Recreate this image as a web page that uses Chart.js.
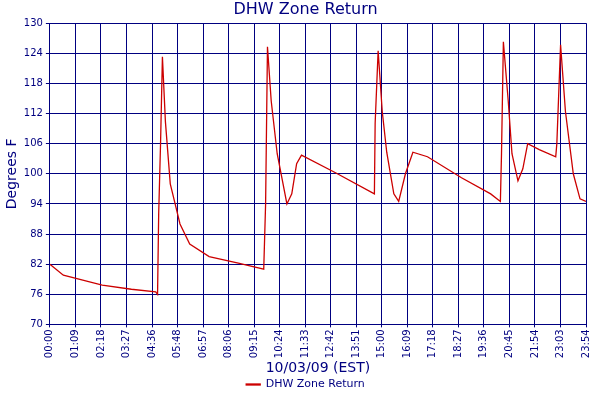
<!DOCTYPE html>
<html><head><meta charset="utf-8">
<script src="https://cdn.jsdelivr.net/npm/chart.js@4"></script>
<style>html,body{margin:0;background:#fff}#w{width:600px;height:400px}</style>
</head><body><div id="w"><canvas id="c"></canvas></div>
<script>
const minutes=[0,36,88,140,218,283,288,291,296,301,309,322,335,348,374,426,504,572,577,582,592,608,634,647,660,673,764,868,870,878,889,901,920,933,951,971,1010,1101,1179,1205,1208,1213,1226,1236,1252,1265,1278,1309,1353,1356,1366,1379,1400,1418,1434];
const temps=[82,79.8,78.8,77.8,77,76.5,76,92,106,123.3,110.4,98,94,90,86,83.5,82.2,81,94,125.3,114.5,104,94,96,102,103.7,100.2,96,110,124.5,112.4,104.3,96,94.5,100,104.3,103.4,99.2,96,94.5,104,126.3,114.5,104,98.6,101,106,104.8,103.4,106,125.7,112.4,100,95,94.5];
const tickLabels=["00:00","01:09","02:18","03:27","04:36","05:48","06:57","08:06","09:15","10:24","11:33","12:42","13:51","15:00","16:09","17:18","18:27","19:36","20:45","21:54","23:03","23:54"];
const yTicks=[70,76,82,88,94,100,106,112,118,124,130];
const navy='#000080';
Chart.defaults.font.family='"DejaVu Sans", Verdana, sans-serif';
new Chart(document.getElementById('c'),{
 type:'line',
 data:{datasets:[{label:'DHW Zone Return',data:minutes.map((m,i)=>({x:m,y:temps[i]})),borderColor:'#cc0000',backgroundColor:'#cc0000',borderWidth:1.3,pointRadius:0,tension:0}]},
 options:{responsive:true,maintainAspectRatio:false,animation:false,
  layout:{padding:{right:-11,top:0,bottom:0}},
  plugins:{
   title:{display:true,text:'DHW Zone Return',color:navy,font:{size:16,weight:'normal'},padding:{top:0,bottom:4}},
   legend:{position:'bottom',labels:{color:navy,font:{size:11},boxWidth:14,boxHeight:1,padding:2}}
  },
  scales:{
   x:{type:'linear',min:0,max:1434,
    afterBuildTicks:s=>{s.ticks=tickLabels.map((l,i)=>({value:i*1434/(tickLabels.length-1)}));},
    ticks:{autoSkip:false,maxRotation:90,minRotation:90,color:navy,font:{size:10},padding:2,callback:(v,i)=>tickLabels[i]},
    grid:{color:navy,drawTicks:true,tickLength:3},border:{color:navy},
    title:{display:true,text:'10/03/09 (EST)',color:navy,font:{size:14},padding:{top:0,bottom:0}}},
   y:{min:70,max:130,
    afterBuildTicks:s=>{s.ticks=yTicks.map(v=>({value:v}));},
    ticks:{color:navy,font:{size:10}},
    grid:{color:navy,tickLength:4},border:{color:navy},
    title:{display:true,text:'Degrees F',color:navy,font:{size:14},padding:{bottom:0}}}
  }}
});
</script></body></html>
